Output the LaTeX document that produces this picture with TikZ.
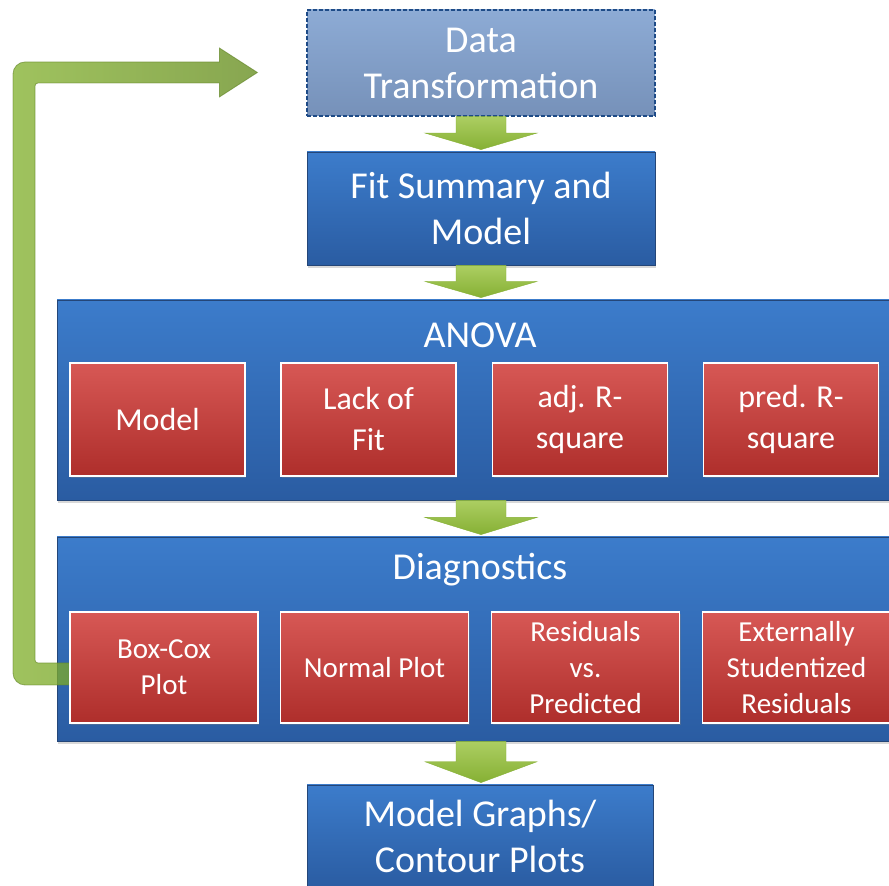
\documentclass[tikz,border=0pt]{standalone}
\usepackage{fontspec}
\setmainfont{Carlito}
\usetikzlibrary{calc,shadows}

\definecolor{blueTop}{RGB}{60,124,203}
\definecolor{blueBot}{RGB}{42,92,162}
\definecolor{blueEdge}{RGB}{36,70,120}
\definecolor{paleTop}{RGB}{141,171,213}
\definecolor{paleBot}{RGB}{118,145,185}
\definecolor{paleEdge}{RGB}{30,75,135}
\definecolor{redTop}{RGB}{215,88,85}
\definecolor{redBot}{RGB}{174,46,43}
\definecolor{grnTop}{RGB}{172,206,98}
\definecolor{grnBot}{RGB}{134,176,52}
\definecolor{fbLeft}{RGB}{131,177,46}
\definecolor{fbRight}{RGB}{100,140,28}
\definecolor{fbEdge}{RGB}{95,130,35}

\newcommand{\stagefont}{\fontsize{38}{46}\selectfont}
\newcommand{\itemfont}{\fontsize{32}{41}\selectfont}
\newcommand{\diagfont}{\fontsize{29}{36}\selectfont}

\pgfdeclarelayer{back}
\pgfdeclarelayer{loop}
\pgfsetlayers{back,loop,main}

\tikzset{
  every node/.style={text=white, align=center, inner sep=0pt},
  stagetext/.style={font=\stagefont},
  stagebox/.style={stagetext, draw=blueEdge, line width=0.8pt, top color=blueTop, bottom color=blueBot,
    drop shadow={opacity=0.3, shadow xshift=1pt, shadow yshift=-3pt}},
  optbox/.style={stagetext, draw=paleEdge, line width=1.2pt, dash pattern=on 4pt off 2pt,
    top color=paleTop, bottom color=paleBot},
  groupbox/.style={draw=blueEdge, line width=0.8pt, top color=blueTop, bottom color=blueBot,
    drop shadow={opacity=0.3, shadow xshift=1pt, shadow yshift=-3pt}},
  testbox/.style={draw=white, line width=1.5pt, top color=redTop, bottom color=redBot,
    drop shadow={opacity=0.35, shadow xshift=1pt, shadow yshift=-2pt}},
  anovabox/.style={testbox, font=\itemfont, minimum width=175, minimum height=113},
  diagbox/.style={testbox, font=\diagfont, minimum width=188, minimum height=111},
  flowarrow/.style={top color=grnTop, bottom color=grnBot, draw=grnBot, line width=0.4pt},
  feedback/.style={left color=fbLeft, right color=fbRight, draw=fbEdge, line width=0.8pt,
    fill opacity=0.77, draw opacity=0.6}
}

% block arrow pointing down from one node to the next
\newcommand{\flowstep}[2]{%
  \shade[flowarrow] let \p1=(#1.south), \p2=(#2.north) in
    ({\x1-25pt},\y1) -- ({\x1+25pt},\y1)
    -- ({\x1+25pt},{\y1-0.47*(\y1-\y2)}) -- ({\x1+56pt},{\y1-0.47*(\y1-\y2)})
    -- (\x1,{\y2+2pt})
    -- ({\x1-56pt},{\y1-0.47*(\y1-\y2)}) -- ({\x1-25pt},{\y1-0.47*(\y1-\y2)}) -- cycle;}

\begin{document}
\begin{tikzpicture}[x=1pt,y=1pt]
\useasboundingbox (0,0) rectangle (889,886);
\begin{pgfonlayer}{back}
\fill[white] (0,0) rectangle (889,886);
% group panels
\node[groupbox, minimum width=848, minimum height=200] (anova) at (481,486) {};
\node[groupbox, minimum width=848, minimum height=204] (diag) at (481,247) {};
\end{pgfonlayer}

% main stages
\node[optbox, minimum width=348, minimum height=106] (dt) at (481,823)
  {Data\\Transformation};
\node[stagebox, minimum width=348, minimum height=113] (fit) at (481,677.5)
  {Fit Summary and\\Model};

% ANOVA group
\node[stagetext] (anovaT) at (480,551) {ANOVA};
\node[anovabox] (a1) at (157.5,466.5) {Model};
\node[anovabox] (a2) at (368.5,466.5) {Lack of\\Fit};
\node[anovabox] (a3) at (580,466.5) {adj. R-\\square};
\node[anovabox] (a4) at (791,466.5) {pred. R-\\square};

% Diagnostics group
\node[stagetext] (diagT) at (480,316) {Diagnostics};
\node[diagbox] (d1) at (164,218.5) {Box-Cox\\Plot};
\node[diagbox] (d2) at (374.5,218.5) {Normal Plot};
\node[diagbox] (d3) at (585.5,218.5) {Residuals\\vs.\\Predicted};
\node[diagbox] (d4) at (796.5,218.5) {Externally\\Studentized\\Residuals};

% final stage
\node[stagebox, minimum width=346, minimum height=103] (mg) at (480,49.5)
  {Model Graphs/\\Contour Plots};

% arrows between stages
\flowstep{dt}{fit}
\flowstep{fit}{anova}
\flowstep{anova}{diag}
\flowstep{diag}{mg}

% loop back from Box-Cox to the transformation step
\begin{pgfonlayer}{loop}
\shade[feedback] let \p1=(d1.west), \p2=(dt.west) in
  (\x1,{\y1+4.5pt}) -- (38,{\y1+4.5pt}) arc[start angle=270, end angle=180, radius=3]
  -- (35,{\y2-23pt}) arc[start angle=180, end angle=90, radius=3]
  -- ({\x2-87pt},{\y2-20pt}) -- ({\x2-87pt},{\y2-34pt}) -- ({\x2-49pt},{\y2-9.5pt})
  -- ({\x2-87pt},{\y2+15pt}) -- ({\x2-87pt},{\y2+1pt})
  -- (25,{\y2+1pt}) arc[start angle=90, end angle=180, radius=12]
  -- (13,{\y1-5.5pt}) arc[start angle=180, end angle=270, radius=12]
  -- (\x1,{\y1-17.5pt}) -- cycle;
\end{pgfonlayer}
\end{tikzpicture}
\end{document}
